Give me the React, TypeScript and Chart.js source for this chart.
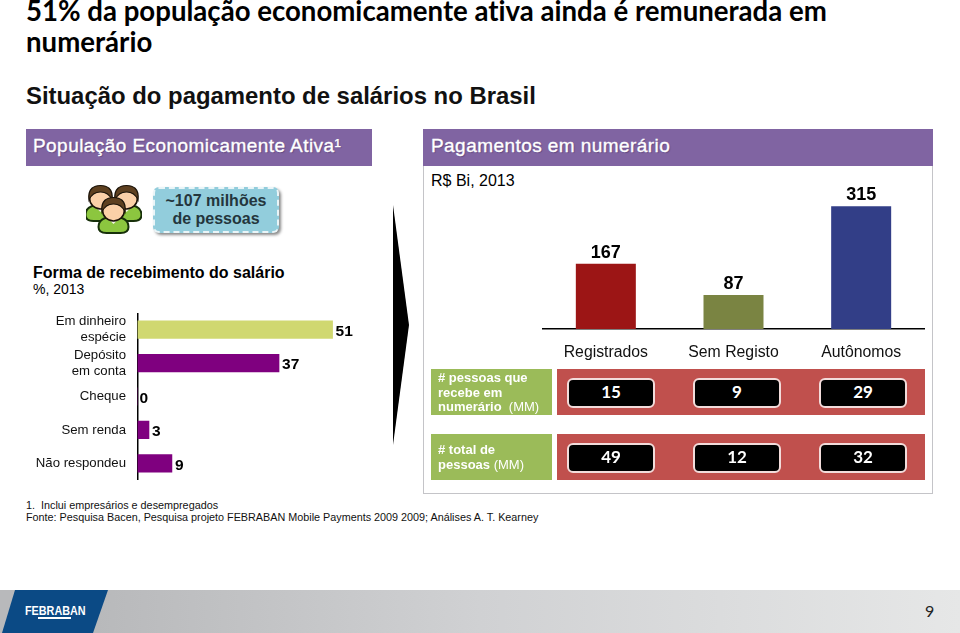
import React, { useEffect, useRef } from "react";
import { Chart, registerables } from "chart.js";

Chart.register(...registerables);

const SANS = '"Liberation Sans", Arial, sans-serif';
const HUMANIST = 'Lato, "Open Sans", sans-serif';

const incomeCategories = [["Em dinheiro", "espécie"], ["Depósito", "em conta"], "Cheque", "Sem renda", "Não respondeu"];
const incomeValues = [51, 37, 0, 3, 9];
const incomeColors = ["#D0D870", "#7F007F", "#7F007F", "#7F007F", "#7F007F"];

const paymentCategories = ["Registrados", "Sem Registo", "Autônomos"];
const paymentValues = [167, 87, 315];
const paymentColors = ["#9C1515", "#7A8442", "#323E87"];

const peopleReceiving = ["15", "9", "29"];
const peopleTotal = ["49", "12", "32"];

const valueLabels = (mode: "end" | "top") => ({
  id: "valueLabels",
  afterDatasetsDraw(chart: any) {
    const { ctx } = chart;
    const meta = chart.getDatasetMeta(0);
    const values = chart.data.datasets[0].data;
    ctx.save();
    ctx.fillStyle = "#000";
    ctx.font = `bold ${mode === "end" ? 15.5 : 18}px ${SANS}`;
    meta.data.forEach((el: any, i: number) => {
      if (mode === "end") {
        ctx.textAlign = "left";
        ctx.textBaseline = "middle";
        ctx.fillText(String(values[i]), el.x + (values[i] === 0 ? 2 : 3), el.y + 2);
      } else {
        ctx.textAlign = "center";
        ctx.textBaseline = "alphabetic";
        ctx.fillText(String(values[i]), el.x, el.y - 6);
      }
    });
    ctx.restore();
  },
});

const abs = (left: number, top: number, width: number, height: number, extra: React.CSSProperties = {}): React.CSSProperties => ({
  position: "absolute",
  left,
  top,
  width,
  height,
  ...extra,
});

const text = (left: number, top: number, size: number, weight: number, extra: React.CSSProperties = {}): React.CSSProperties => ({
  position: "absolute",
  left,
  top,
  fontFamily: SANS,
  fontSize: size,
  fontWeight: weight,
  whiteSpace: "nowrap",
  color: "#000",
  ...extra,
});

const headerText: React.CSSProperties = {
  color: "#fff",
  WebkitTextStroke: "0.35px #fff",
  textShadow: "1px 1px 1px rgba(60,40,90,0.45)",
  letterSpacing: 0.44,
} as React.CSSProperties;

function Person({ x, y }: { x: number; y: number }) {
  return (
    <g transform={`translate(${x} ${y})`}>
      <path d="M-15 17 C-15 9 -8 7 0 7 C8 7 15 9 15 17 C15 22 11 23 7 23 L-7 23 C-11 23 -15 22 -15 17 Z" fill="#8CC63F" stroke="#17300A" strokeWidth="2" />
      <path d="M-5 9 L0 14 L5 9 L2 7 L-2 7 Z" fill="#F4F4E8" />
      <circle cx="0" cy="0" r="11" fill="#FBD0A8" stroke="#1A1208" strokeWidth="1.6" />
      <path d="M-11.5 2 C-13 -10 -6 -12.5 0 -12.5 C6 -12.5 13 -10 11.5 2 C9 -4 4 -6 0 -6 C-4 -6 -9 -4 -11.5 2 Z" fill="#5E4020" stroke="#1A1208" strokeWidth="1.2" />
    </g>
  );
}

function ValueRow({ top, values }: { top: number; values: string[] }) {
  return (
    <div style={abs(557, top, 368, 46, { background: "#C0504D" })}>
      {values.map((v, i) => (
        <div
          key={i}
          style={abs(10 + i * 126, 9, 88, 30, {
            boxSizing: "border-box",
            background: "#000",
            border: "2px solid #F2DCDB",
            borderRadius: 6,
            color: "#fff",
            fontFamily: HUMANIST,
            fontWeight: 700,
            fontSize: 17,
            lineHeight: "24px",
            textAlign: "center",
          })}
        >
          {v}
        </div>
      ))}
    </div>
  );
}

export default function App() {
  const leftRef = useRef<HTMLCanvasElement>(null);
  const rightRef = useRef<HTMLCanvasElement>(null);

  useEffect(() => {
    const left = new Chart(leftRef.current!, {
      type: "bar",
      data: {
        labels: incomeCategories as any,
        datasets: [{ data: incomeValues, backgroundColor: incomeColors, barThickness: 17.5 }],
      },
      plugins: [valueLabels("end")],
      options: {
        indexAxis: "y",
        animation: false,
        responsive: false,
        devicePixelRatio: 1,
        layout: { padding: 0 },
        plugins: { legend: { display: false }, tooltip: { enabled: false } },
        scales: {
          x: { display: false, min: 0, max: 60 },
          y: {
            afterFit: (s: any) => {
              s.width = 137.5;
              s.paddingTop = 0;
              s.paddingBottom = 0;
            },
            grid: { display: false, drawTicks: false },
            border: { display: true, color: "#000", width: 1.5 },
            ticks: {
              autoSkip: false,
              padding: 11.5,
              color: "#111",
              font: { family: SANS, size: 13.2, lineHeight: 1.22 },
            },
          },
        },
      },
    } as any);

    const right = new Chart(rightRef.current!, {
      type: "bar",
      data: {
        labels: paymentCategories,
        datasets: [{ data: paymentValues, backgroundColor: paymentColors, barPercentage: 1, categoryPercentage: 0.47 }],
      },
      plugins: [valueLabels("top")],
      options: {
        animation: false,
        responsive: false,
        devicePixelRatio: 1,
        layout: { padding: 0 },
        plugins: { legend: { display: false }, tooltip: { enabled: false } },
        scales: {
          y: { display: false, min: 0, max: 400 },
          x: {
            afterFit: (s: any) => {
              s.height = 41;
              s.paddingLeft = 0;
              s.paddingRight = 0;
            },
            grid: { display: false, drawTicks: false },
            border: { display: true, color: "#000", width: 1.5 },
            ticks: {
              maxRotation: 0,
              padding: 14.5,
              color: "#111",
              font: { family: SANS, size: 15.8 },
            },
          },
        },
      },
    } as any);

    return () => {
      left.destroy();
      right.destroy();
    };
  }, []);

  return (
    <div style={abs(0, 0, 960, 633, { background: "#fff", overflow: "hidden" })}>
      <div style={text(26, -5, 27.6, 700, { fontFamily: HUMANIST, whiteSpace: "normal", width: 860, lineHeight: "31px", fontVariantLigatures: "none" })}>
        51% da população economicamente ativa ainda é remunerada em numerário
      </div>
      <div style={text(26, 82, 23.9, 700, { color: "#111" })}>Situação do pagamento de salários no Brasil</div>

      <div style={abs(26, 129, 346, 37, { background: "#8064A2" })} />
      <div style={text(33, 135, 19, 400, headerText)}>População Economicamente Ativa¹</div>

      <div style={abs(423, 166, 510, 328, { boxSizing: "border-box", border: "1px solid #C4C4C8", borderTop: "none" })} />
      <div style={abs(423, 129, 510, 37, { background: "#8064A2" })} />
      <div style={text(431, 135, 19, 400, headerText)}>Pagamentos em numerário</div>
      <div style={text(431, 172, 16, 400)}>R$ Bi, 2013</div>

      <svg style={abs(86, 183, 56, 52)} viewBox="0 0 56 52">
        <Person x={14.5} y={15} />
        <Person x={40.5} y={15} />
        <Person x={27.5} y={27} />
      </svg>

      <div
        style={abs(153, 187, 126, 46, {
          boxSizing: "border-box",
          background: "#92CDDC",
          border: "2px dashed #EAF5F8",
          borderRadius: 6,
          boxShadow: "2px 2px 3px #8A8A8A",
          fontFamily: SANS,
          fontWeight: 700,
          fontSize: 16,
          lineHeight: "18px",
          color: "#24363D",
          textAlign: "center",
          paddingTop: 3,
        })}
      >
        ~107 milhões
        <br />
        de pessoas
      </div>

      <div style={text(33, 264, 16, 700)}>Forma de recebimento do salário</div>
      <div style={text(33, 281, 14, 400)}>%, 2013</div>

      <svg style={abs(390, 200, 24, 250)} viewBox="0 0 24 250">
        <polygon points="3,5 19,125 3,245" fill="#000" />
      </svg>

      <canvas ref={leftRef} width={367} height={167} style={abs(0, 313, 367, 167)} />
      <canvas ref={rightRef} width={383} height={197} style={abs(542, 173, 383, 197)} />

      <div style={abs(431, 369, 121, 46, { background: "#9BBB59" })} />
      <div style={text(438, 371, 13, 700, { color: "#fff", lineHeight: "14.5px" })}>
        # pessoas que
        <br />
        recebe em
        <br />
        numerário <span style={{ fontWeight: 400 }}>&nbsp;(MM)</span>
      </div>
      <div style={abs(431, 434, 121, 46, { background: "#9BBB59" })} />
      <div style={text(438, 443, 13, 700, { color: "#fff", lineHeight: "14.5px" })}>
        # total de
        <br />
        pessoas <span style={{ fontWeight: 400 }}>(MM)</span>
      </div>

      <ValueRow top={369} values={peopleReceiving} />
      <ValueRow top={434} values={peopleTotal} />

      <div style={text(26, 500, 10.8, 400, { lineHeight: "11.5px", color: "#111" })}>
        1.&nbsp; Inclui empresários e desempregados
        <br />
        Fonte: Pesquisa Bacen, Pesquisa projeto FEBRABAN Mobile Payments 2009 2009; Análises A. T. Kearney
      </div>

      <div style={abs(0, 590, 960, 43, { background: "linear-gradient(90deg, #B8B9BB 10%, #D0D1D3 50%, #E6E7E7 100%)" })} />
      <svg style={abs(0, 590, 110, 43)} viewBox="0 0 110 43">
        <polygon points="15,0 108,0 93,43 2,43" fill="#0B4A85" />
      </svg>
      <div style={text(25, 604, 12, 700, { color: "#fff", transform: "scaleX(0.9)", transformOrigin: "left" })}>FEBRABAN</div>
      <div style={abs(38, 617, 33, 1.5, { background: "#fff" })} />
      <div style={text(925, 601, 16, 400, { fontFamily: HUMANIST, color: "#222" })}>9</div>
    </div>
  );
}
